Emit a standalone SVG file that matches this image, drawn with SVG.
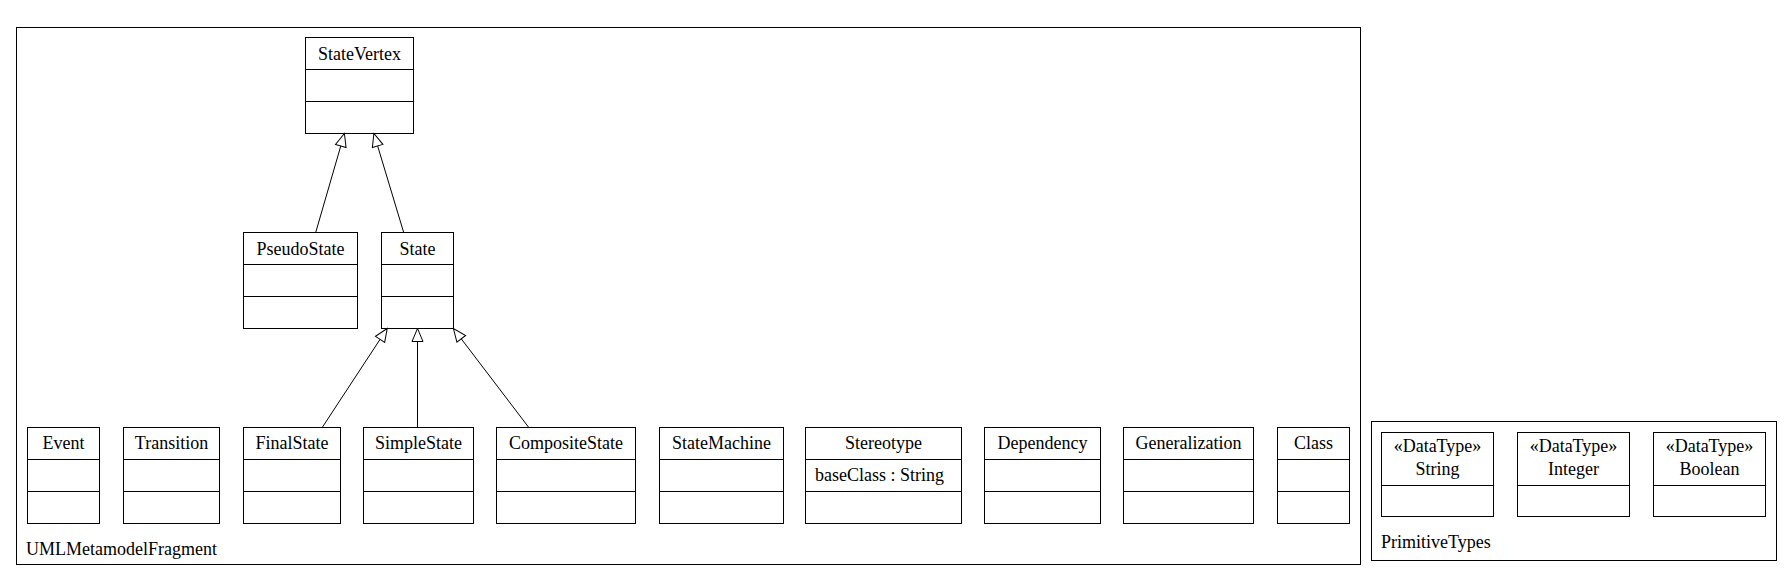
<svg xmlns="http://www.w3.org/2000/svg" width="1792" height="581" viewBox="0 0 1792 581">
<style>
.box{fill:#fff;stroke:#000;stroke-width:1}
.pkg{fill:none;stroke:#000;stroke-width:1}
.div{stroke:#000;stroke-width:1}
text{font-family:"Liberation Serif","Times New Roman",serif;font-size:18px;fill:#000}
.c{text-anchor:middle}
.edge{stroke:#000;stroke-width:1;fill:none;marker-end:url(#gen)}
</style>
<defs>
<marker id="gen" markerWidth="16" markerHeight="14" refX="14" refY="7" orient="auto" markerUnits="userSpaceOnUse" viewBox="0 0 16 14">
<path d="M14,7 L1,1.5 L1,12.5 Z" fill="#fff" stroke="#000" stroke-width="1"/>
</marker>
</defs>
<rect width="1792" height="581" fill="#fff"/>
<g id="UMLMetamodelFragment">
<rect class="pkg" x="16.5" y="27.5" width="1344" height="537"/>
<text x="26" y="555">UMLMetamodelFragment</text>
</g>
<g id="PrimitiveTypes">
<rect class="pkg" x="1371.5" y="421.5" width="405" height="139"/>
<text x="1381" y="548">PrimitiveTypes</text>
</g>
<g id="StateVertex">
<rect class="box" x="305.5" y="37.5" width="108" height="96"/>
<line class="div" x1="305.5" y1="69.5" x2="413.5" y2="69.5"/>
<line class="div" x1="305.5" y1="101.5" x2="413.5" y2="101.5"/>
<text class="c" x="359.5" y="60">StateVertex</text>
</g>
<g id="PseudoState">
<rect class="box" x="243.5" y="232.5" width="114" height="96"/>
<line class="div" x1="243.5" y1="264.5" x2="357.5" y2="264.5"/>
<line class="div" x1="243.5" y1="296.5" x2="357.5" y2="296.5"/>
<text class="c" x="300.5" y="255">PseudoState</text>
</g>
<g id="State">
<rect class="box" x="381.5" y="232.5" width="72" height="96"/>
<line class="div" x1="381.5" y1="264.5" x2="453.5" y2="264.5"/>
<line class="div" x1="381.5" y1="296.5" x2="453.5" y2="296.5"/>
<text class="c" x="417.5" y="255">State</text>
</g>
<g id="Event">
<rect class="box" x="27.5" y="427.5" width="72" height="96"/>
<line class="div" x1="27.5" y1="459.5" x2="99.5" y2="459.5"/>
<line class="div" x1="27.5" y1="491.5" x2="99.5" y2="491.5"/>
<text class="c" x="63.5" y="449">Event</text>
</g>
<g id="Transition">
<rect class="box" x="123.5" y="427.5" width="96" height="96"/>
<line class="div" x1="123.5" y1="459.5" x2="219.5" y2="459.5"/>
<line class="div" x1="123.5" y1="491.5" x2="219.5" y2="491.5"/>
<text class="c" x="171.5" y="449">Transition</text>
</g>
<g id="FinalState">
<rect class="box" x="243.5" y="427.5" width="97" height="96"/>
<line class="div" x1="243.5" y1="459.5" x2="340.5" y2="459.5"/>
<line class="div" x1="243.5" y1="491.5" x2="340.5" y2="491.5"/>
<text class="c" x="292" y="449">FinalState</text>
</g>
<g id="SimpleState">
<rect class="box" x="363.5" y="427.5" width="110" height="96"/>
<line class="div" x1="363.5" y1="459.5" x2="473.5" y2="459.5"/>
<line class="div" x1="363.5" y1="491.5" x2="473.5" y2="491.5"/>
<text class="c" x="418.5" y="449">SimpleState</text>
</g>
<g id="CompositeState">
<rect class="box" x="496.5" y="427.5" width="139" height="96"/>
<line class="div" x1="496.5" y1="459.5" x2="635.5" y2="459.5"/>
<line class="div" x1="496.5" y1="491.5" x2="635.5" y2="491.5"/>
<text class="c" x="566" y="449">CompositeState</text>
</g>
<g id="StateMachine">
<rect class="box" x="659.5" y="427.5" width="124" height="96"/>
<line class="div" x1="659.5" y1="459.5" x2="783.5" y2="459.5"/>
<line class="div" x1="659.5" y1="491.5" x2="783.5" y2="491.5"/>
<text class="c" x="721.5" y="449">StateMachine</text>
</g>
<g id="Stereotype">
<rect class="box" x="805.5" y="427.5" width="156" height="96"/>
<line class="div" x1="805.5" y1="459.5" x2="961.5" y2="459.5"/>
<line class="div" x1="805.5" y1="491.5" x2="961.5" y2="491.5"/>
<text class="c" x="883.5" y="449">Stereotype</text>
<text x="815" y="481">baseClass : String</text>
</g>
<g id="Dependency">
<rect class="box" x="984.5" y="427.5" width="116" height="96"/>
<line class="div" x1="984.5" y1="459.5" x2="1100.5" y2="459.5"/>
<line class="div" x1="984.5" y1="491.5" x2="1100.5" y2="491.5"/>
<text class="c" x="1042.5" y="449">Dependency</text>
</g>
<g id="Generalization">
<rect class="box" x="1123.5" y="427.5" width="130" height="96"/>
<line class="div" x1="1123.5" y1="459.5" x2="1253.5" y2="459.5"/>
<line class="div" x1="1123.5" y1="491.5" x2="1253.5" y2="491.5"/>
<text class="c" x="1188.5" y="449">Generalization</text>
</g>
<g id="Class">
<rect class="box" x="1277.5" y="427.5" width="72" height="96"/>
<line class="div" x1="1277.5" y1="459.5" x2="1349.5" y2="459.5"/>
<line class="div" x1="1277.5" y1="491.5" x2="1349.5" y2="491.5"/>
<text class="c" x="1313.5" y="449">Class</text>
</g>
<g id="String">
<rect class="box" x="1381.5" y="432.5" width="112" height="84"/>
<line class="div" x1="1381.5" y1="485.5" x2="1493.5" y2="485.5"/>
<text class="c" x="1437.5" y="452">«DataType»</text>
<text class="c" x="1437.5" y="475">String</text>
</g>
<g id="Integer">
<rect class="box" x="1517.5" y="432.5" width="112" height="84"/>
<line class="div" x1="1517.5" y1="485.5" x2="1629.5" y2="485.5"/>
<text class="c" x="1573.5" y="452">«DataType»</text>
<text class="c" x="1573.5" y="475">Integer</text>
</g>
<g id="Boolean">
<rect class="box" x="1653.5" y="432.5" width="112" height="84"/>
<line class="div" x1="1653.5" y1="485.5" x2="1765.5" y2="485.5"/>
<text class="c" x="1709.5" y="452">«DataType»</text>
<text class="c" x="1709.5" y="475">Boolean</text>
</g>
<g id="connectors">
<line class="edge" x1="315.7" y1="232.5" x2="344.4" y2="133.5"/>
<line class="edge" x1="403.7" y1="232.5" x2="373.9" y2="133.5"/>
<line class="edge" x1="322.2" y1="427.5" x2="387.2" y2="328.5"/>
<line class="edge" x1="417.5" y1="427.5" x2="417.5" y2="328.5"/>
<line class="edge" x1="528.8" y1="427.5" x2="453.4" y2="328.5"/>
</g>
</svg>
